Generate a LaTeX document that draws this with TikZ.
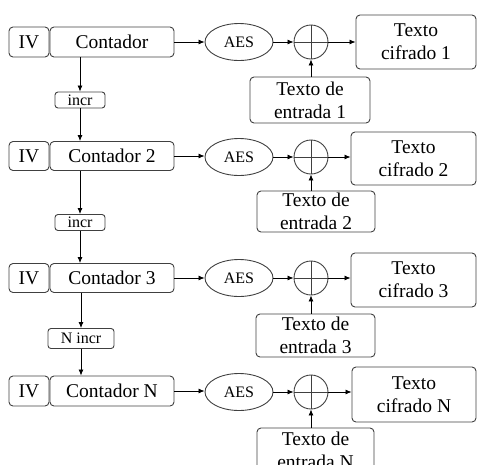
\documentclass[tikz,border=0pt]{standalone}
\usepackage{fontspec}
\setmainfont{LiberationSerif}[Extension=.ttf,UprightFont=*-Regular,BoldFont=*-Bold]
\usetikzlibrary{arrows.meta,shapes.geometric}
\definecolor{edge}{HTML}{404040}
\newcommand\txtmain{\fontsize{19.5}{23}\selectfont}
\newcommand\txtsmall{\fontsize{16}{18}\selectfont}
\begin{document}
\begin{tikzpicture}[x=1pt,y=-1pt,
  box/.style={draw=edge,rounded corners=4pt,line width=0.9pt,inner sep=0pt,
              align=center,font=\txtmain},
  smallbox/.style={box,rounded corners=3pt,font=\txtsmall},
  cipher/.style={draw=edge,ellipse,line width=0.9pt,inner sep=0pt,
                 minimum width=68pt,minimum height=37pt,font=\txtsmall},
  xorgate/.style={draw=edge,circle,line width=0.9pt,inner sep=0pt,minimum size=34pt},
  arr/.style={draw=black,line width=0.8pt,-{Latex[length=6pt,width=5pt]}},
  plusline/.style={draw=edge,line width=0.8pt}]
\useasboundingbox (0,0) rectangle (477,464);
\clip (0,0) rectangle (477,464);

% ---- row 1 ----
\node[box,minimum width=40pt,minimum height=30pt] (iv1) at (29,42) {IV};
\node[box,minimum width=124pt,minimum height=30pt] (c1) at (112,42) {Contador};
\node[cipher] (a1) at (239,42) {AES};
\node[xorgate] (x1) at (311,42) {};
\node[box,minimum width=120pt,minimum height=54pt] (o1) at (416,42) {Texto\\cifrado 1};
\node[box,minimum width=120pt,minimum height=46pt] (e1) at (310,100) {Texto de\\entrada 1};
\node[smallbox,minimum width=50pt,minimum height=16pt] (k1) at (80,100) {incr};

% ---- row 2 ----
\node[box,minimum width=40pt,minimum height=29pt] (iv2) at (29,156) {IV};
\node[box,minimum width=124pt,minimum height=29pt] (c2) at (112,156) {Contador 2};
\node[cipher] (a2) at (239,157) {AES};
\node[xorgate] (x2) at (311,157) {};
\node[box,minimum width=125pt,minimum height=53pt] (o2) at (413.5,158.5) {Texto\\cifrado 2};
\node[box,minimum width=118pt,minimum height=41pt] (e2) at (316,211.5) {Texto de\\entrada 2};
\node[smallbox,minimum width=50pt,minimum height=16pt] (k2) at (80,222.5) {incr};

% ---- row 3 ----
\node[box,minimum width=40pt,minimum height=29pt] (iv3) at (29,278) {IV};
\node[box,minimum width=124pt,minimum height=29pt] (c3) at (112,278) {Contador 3};
\node[cipher] (a3) at (239,278) {AES};
\node[xorgate] (x3) at (311,278) {};
\node[box,minimum width=125pt,minimum height=54pt] (o3) at (413.5,280) {Texto\\cifrado 3};
\node[box,minimum width=119pt,minimum height=43pt] (e3) at (315.5,335.5) {Texto de\\entrada 3};
\node[smallbox,minimum width=66pt,minimum height=20pt] (k3) at (81,338.5) {N incr};

% ---- row N ----
\node[box,minimum width=40pt,minimum height=30pt] (iv4) at (29,391) {IV};
\node[box,minimum width=124pt,minimum height=30pt] (c4) at (112,391) {Contador N};
\node[cipher] (a4) at (239,392) {AES};
\node[xorgate] (x4) at (311,392) {};
\node[box,minimum width=124pt,minimum height=55pt] (o4) at (414,394.5) {Texto\\cifrado N};
\node[box,minimum width=117pt,minimum height=44pt] (e4) at (315.5,450) {Texto de\\entrada N};

% XOR symbols and data flow of each row
\foreach \r in {1,2,3,4}{
  \draw[plusline] (x\r.north) -- (x\r.south) (x\r.west) -- (x\r.east);
  \draw[arr] (c\r.east) -- (c\r.east -| a\r.west);
  \draw[arr] (a\r.east) -- (a\r.east -| x\r.west);
  \draw[arr] (x\r.east) -- (x\r.east -| o\r.west);
  \draw[arr] (x\r.south |- e\r.north) -- (x\r.south);
}

% counter increments
\draw[arr] (k1.north |- c1.south) -- (k1.north);
\draw[arr] (k1.south) -- (k1.south |- c2.north);
\draw[arr] (k2.north |- c2.south) -- (k2.north);
\draw[arr] (k2.south) -- (k2.south |- c3.north);
\draw[arr] (k3.north |- c3.south) -- (k3.north);
\draw[arr] (k3.south) -- (k3.south |- c4.north);
\end{tikzpicture}
\end{document}
